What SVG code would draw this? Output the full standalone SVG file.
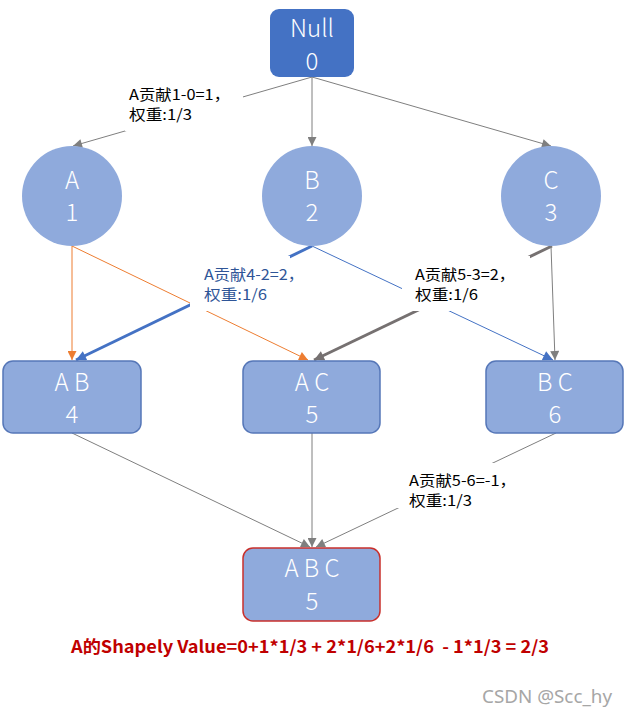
<svg xmlns="http://www.w3.org/2000/svg" width="626" height="717" viewBox="0 0 626 717">
<style>
.node{fill:#8FAADC}
.box{fill:#8FAADC;stroke:#5677B8;stroke-width:1.5}
.nt{fill:#ffffff;font-family:"Noto Sans CJK SC","Noto Sans",sans-serif;font-weight:300;font-size:24px;text-anchor:middle}
.lbl{font-family:"Noto Sans CJK SC","Noto Sans",sans-serif;font-size:15px;fill:#000000}
.bl{fill:#2F5597}
.g{stroke:#7F7F7F;stroke-width:1;fill:none}
.o{stroke:#ED7D31;stroke-width:1;fill:none}
.b{stroke:#4472C4;stroke-width:1;fill:none}
</style>
<defs>
<marker id="ag" viewBox="0 0 10 10" refX="10" refY="5" markerWidth="10" markerHeight="9" markerUnits="userSpaceOnUse" orient="auto"><path d="M0,0 L10,5 L0,10 z" fill="#7F7F7F"/></marker>
<marker id="ao" viewBox="0 0 10 10" refX="10" refY="5" markerWidth="10" markerHeight="9" markerUnits="userSpaceOnUse" orient="auto"><path d="M0,0 L10,5 L0,10 z" fill="#ED7D31"/></marker>
<marker id="ab" viewBox="0 0 10 10" refX="10" refY="5" markerWidth="11" markerHeight="10" markerUnits="userSpaceOnUse" orient="auto"><path d="M0,0 L10,5 L0,10 z" fill="#4472C4"/></marker>
<marker id="ag2" viewBox="0 0 10 10" refX="10" refY="5" markerWidth="11" markerHeight="10" markerUnits="userSpaceOnUse" orient="auto"><path d="M0,0 L10,5 L0,10 z" fill="#767171"/></marker>
</defs>
<rect width="626" height="717" fill="#ffffff"/>
<g id="connectors">
<line class="g" x1="312" y1="77" x2="73" y2="146" marker-end="url(#ag)"/>
<line class="g" x1="312" y1="77" x2="312" y2="146" marker-end="url(#ag)"/>
<line class="g" x1="312" y1="77" x2="551" y2="146" marker-end="url(#ag)"/>
<line class="o" x1="72" y1="246" x2="72" y2="360" marker-end="url(#ao)"/>
<line class="o" x1="72" y1="246" x2="308" y2="360" marker-end="url(#ao)"/>
<line x1="312" y1="246" x2="76" y2="360" stroke="#4472C4" stroke-width="3" marker-end="url(#ab)"/>
<line class="b" x1="312" y1="246" x2="553" y2="360" marker-end="url(#ab)"/>
<line x1="552" y1="246" x2="314" y2="360" stroke="#767171" stroke-width="3" marker-end="url(#ag2)"/>
<line class="g" x1="551" y1="246" x2="555" y2="360" marker-end="url(#ag)"/>
<line class="g" x1="72" y1="433" x2="310" y2="547" marker-end="url(#ag)"/>
<line class="g" x1="312" y1="433" x2="312" y2="547" marker-end="url(#ag)"/>
<line class="g" x1="556" y1="433" x2="316" y2="547" marker-end="url(#ag)"/>
</g>
<g id="labels">
<rect x="125" y="80" width="118" height="51" fill="#ffffff"/>
<text class="lbl" x="129" y="100" textLength="101" lengthAdjust="spacingAndGlyphs">A贡献1-0=1，</text>
<text class="lbl" x="129" y="120" textLength="63" lengthAdjust="spacingAndGlyphs">权重:1/3</text>
<rect x="190" y="256" width="100" height="55" fill="#ffffff"/>
<text class="lbl bl" x="204" y="280" textLength="100" lengthAdjust="spacingAndGlyphs">A贡献4-2=2，</text>
<text class="lbl bl" x="204" y="300" textLength="63" lengthAdjust="spacingAndGlyphs">权重:1/6</text>
<rect x="402" y="256" width="128" height="55" fill="#ffffff"/>
<text class="lbl" x="415" y="280" textLength="100" lengthAdjust="spacingAndGlyphs">A贡献5-3=2，</text>
<text class="lbl" x="415" y="300" textLength="63" lengthAdjust="spacingAndGlyphs">权重:1/6</text>
<rect x="397" y="463" width="125" height="45" fill="#ffffff"/>
<text class="lbl" x="409" y="486" textLength="107" lengthAdjust="spacingAndGlyphs">A贡献5-6=-1，</text>
<text class="lbl" x="409" y="506" textLength="63" lengthAdjust="spacingAndGlyphs">权重:1/3</text>
</g>
<g id="null">
<rect x="270" y="9" width="84" height="68" rx="9" fill="#4472C4"/>
<text class="nt" x="312" y="37">Null</text>
<text class="nt" x="312" y="70">0</text>
</g>
<g id="a">
<ellipse class="node" cx="72" cy="196" rx="50" ry="50"/>
<text class="nt" x="72" y="189">A</text>
<text class="nt" x="72" y="221">1</text>
</g>
<g id="b">
<ellipse class="node" cx="312" cy="196" rx="50" ry="50"/>
<text class="nt" x="312" y="189">B</text>
<text class="nt" x="312" y="221">2</text>
</g>
<g id="c">
<ellipse class="node" cx="551" cy="196" rx="50" ry="50"/>
<text class="nt" x="551" y="189">C</text>
<text class="nt" x="551" y="221">3</text>
</g>
<g id="ab-node">
<rect class="box" x="3" y="361" width="138" height="72" rx="10"/>
<text class="nt" x="72" y="391">A B</text>
<text class="nt" x="72" y="423">4</text>
</g>
<g id="ac-node">
<rect class="box" x="243" y="361" width="137" height="72" rx="10"/>
<text class="nt" x="312" y="391">A C</text>
<text class="nt" x="312" y="423">5</text>
</g>
<g id="bc-node">
<rect class="box" x="486" y="361" width="137" height="72" rx="10"/>
<text class="nt" x="555" y="391">B C</text>
<text class="nt" x="555" y="423">6</text>
</g>
<g id="abc-node">
<rect x="243" y="548" width="137" height="73" rx="10" fill="#8FAADC" stroke="#C9302C" stroke-width="1.5"/>
<text class="nt" x="312" y="577">A B C</text>
<text class="nt" x="312" y="610">5</text>
</g>
<text x="71" y="653" textLength="478" lengthAdjust="spacingAndGlyphs" xml:space="preserve" style="white-space:pre" font-family="Noto Sans CJK SC, Noto Sans, sans-serif" font-weight="bold" font-size="17" fill="#C00000">A的Shapely Value=0+1*1/3 + 2*1/6+2*1/6  - 1*1/3 = 2/3</text>
<text x="482" y="703" textLength="130" lengthAdjust="spacingAndGlyphs" font-family="Noto Sans, sans-serif" font-size="18" fill="#A6A6A6">CSDN @Scc_hy</text>
</svg>
